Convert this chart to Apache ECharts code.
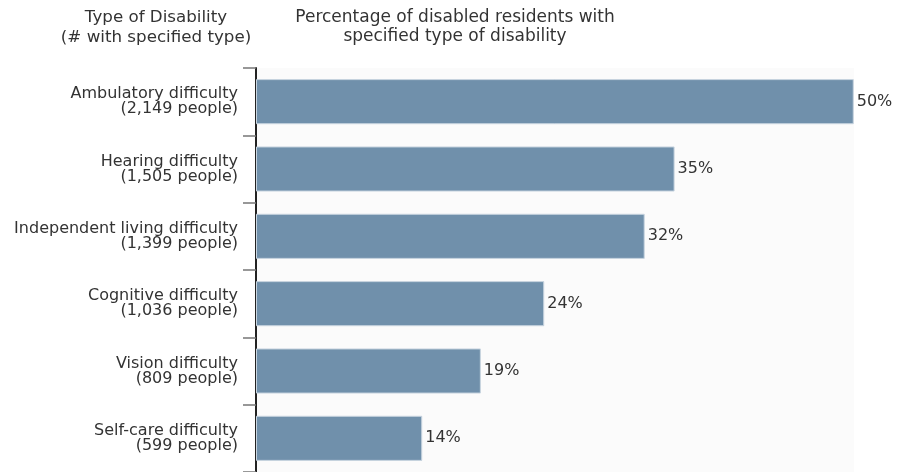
<!DOCTYPE html>
<html><head><meta charset="utf-8">
<script src="https://cdn.jsdelivr.net/npm/echarts@6/dist/echarts.min.js"></script>
<style>html,body{margin:0;padding:0;background:#fff}#c{width:900px;height:472px}</style>
</head><body><div id="c"></div>
<script>
const categories = ["Ambulatory difficulty", "Hearing difficulty", "Independent living difficulty", "Cognitive difficulty", "Vision difficulty", "Self-care difficulty"];
const counts = ["2,149", "1,505", "1,399", "1,036", "809", "599"];
const percents = [49.98, 35.0, 32.5, 24.1, 18.8, 13.9];
const percentLabels = ["50%", "35%", "32%", "24%", "19%", "14%"];

const chart = echarts.init(document.getElementById('c'), null, {renderer: 'canvas'});
const font = '"DejaVu Sans", Verdana, sans-serif';
chart.setOption({
  animation: false,
  backgroundColor: '#fff',
  title: [
    {text: 'Type of Disability\n(# with specified type)', left: 151, top: 3, textAlign: 'center',
     textStyle: {fontFamily: font, fontSize: 16.7, fontWeight: 'normal', color: '#333', lineHeight: 20}},
    {text: 'Percentage of disabled residents with\nspecified type of disability', left: 450, top: 3, textAlign: 'center',
     textStyle: {fontFamily: font, fontSize: 17, fontWeight: 'normal', color: '#333', lineHeight: 19}}
  ],
  grid: {left: 256, right: 46, top: 68, bottom: 0, show: true, backgroundColor: '#fbfbfb', borderWidth: 0},
  xAxis: {type: 'value', min: 0, max: 50, show: false},
  yAxis: {
    type: 'category', inverse: true,
    data: categories.map((c, i) => c + '\n(' + counts[i] + ' people)'),
    axisLine: {show: true, lineStyle: {color: '#222', width: 2}},
    axisTick: {show: true, length: 13, lineStyle: {color: '#777', width: 1.5}},
    axisLabel: {fontFamily: font, fontSize: 16, color: '#333', lineHeight: 15, margin: 18, align: 'right'}
  },
  series: [{
    type: 'bar', data: percents, barCategoryGap: '33%',
    itemStyle: {color: '#7090ab', borderColor: '#c9d5e0', borderWidth: 1},
    label: {show: true, position: 'right', distance: 3, fontFamily: font, fontSize: 16, color: '#333',
      formatter: p => percentLabels[p.dataIndex]}
  }]
});
</script></body></html>
